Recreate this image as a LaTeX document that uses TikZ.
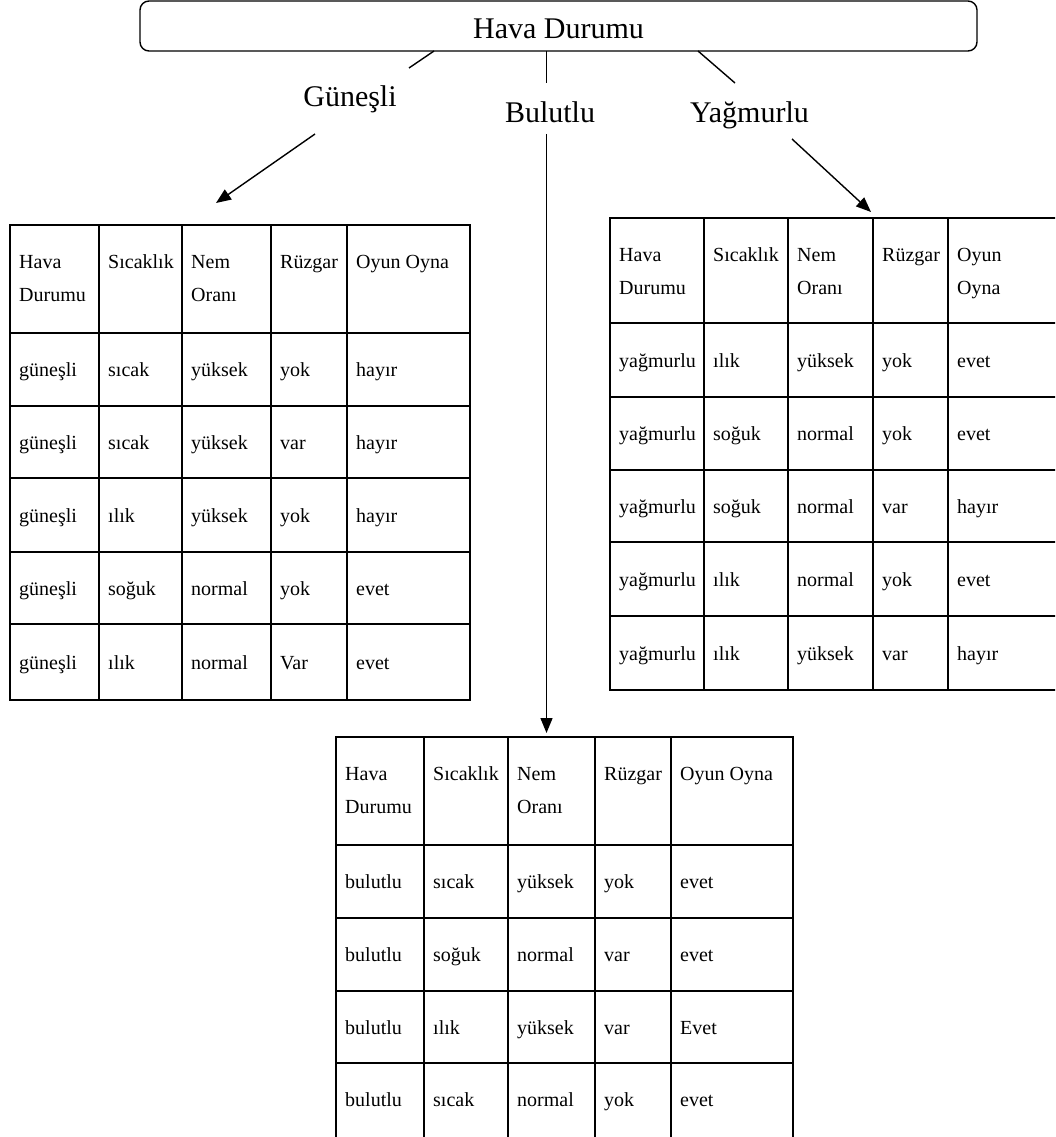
\documentclass[tikz,border=0pt]{standalone}
\usepackage{fontspec}
\setmainfont{Liberation Serif}
\usetikzlibrary{arrows.meta}
\begin{document}
\begin{tikzpicture}[x=1pt,y=-1pt,
  titlebox/.style={draw,line width=1.4pt,rounded corners=9pt,inner sep=0pt,outer sep=0pt,
                   font=\fontsize{30}{36}\selectfont,text height=28pt,text depth=2pt},
  branch/.style={font=\fontsize{30}{36}\selectfont,inner sep=0pt,anchor=base},
  conn/.style={line width=1.4pt},
  arr/.style={line width=1.4pt,-{Triangle[length=15pt,width=12pt]}},
  frame/.style={draw,line width=1.9pt,inner sep=0pt,outer sep=0pt,anchor=north west},
  grid/.style={line width=1.9pt},
  cell/.style={anchor=west,inner sep=0pt,font=\fontsize{20}{24}\selectfont,
               text height=14pt,text depth=4pt}]
\clip (0,0) rectangle (1055,1137);

% root and branch labels
\node[titlebox,minimum width=837pt,minimum height=50pt] (title) at (558.5,26) {Hava Durumu};
\node[branch] (gun) at (350,107) {Güneşli};
\node[branch] (bul) at (550,122) {Bulutlu};
\node[branch] (yag) at (749.5,123) {Yağmurlu};

% table frames
\node[frame,minimum width=460pt,minimum height=475pt] (tg) at (10,225) {};
\node[frame,minimum width=450pt,minimum height=472pt] (ty) at (610,218) {};
\node[frame,minimum width=457pt,minimum height=405pt] (tb) at (336,737) {};

% ---- Güneşli table ----
\foreach \x in {99,182,271,347} \draw[grid] (\x,225) -- (\x,700);
\foreach \y in {333,406,478,552,624} \draw[grid] (10,\y) -- (470,\y);
\foreach \x/\y/\t [count=\i] in {19/263/Hava,19/296/Durumu,108/263/Sıcaklık,191/263/Nem,
    191/296/Oranı,280/263/Rüzgar,356/263/Oyun Oyna}
  \node[cell] (gh\i) at (\x,\y) {\t};
\foreach \y/\va/\vb/\vc/\vd/\ve [count=\r] in {
    371.5/güneşli/sıcak/yüksek/yok/hayır,
    444/güneşli/sıcak/yüksek/var/hayır,
    517/güneşli/ılık/yüksek/yok/hayır,
    590/güneşli/soğuk/normal/yok/evet,
    664/güneşli/ılık/normal/Var/evet}
  \foreach \x/\t [count=\k] in {19/\va,108/\vb,191/\vc,280/\vd,356/\ve}
    \node[cell] (g-\r-\k) at (\x,\y) {\t};

% ---- Yağmurlu table ----
\foreach \x in {704,788,873,948} \draw[grid] (\x,218) -- (\x,690);
\foreach \y in {323,397,470,542,616} \draw[grid] (610,\y) -- (1060,\y);
\foreach \x/\y/\t [count=\i] in {619/256/Hava,619/289/Durumu,713/256/Sıcaklık,797/256/Nem,
    797/289/Oranı,882/256/Rüzgar,957/256/Oyun,957/289/Oyna}
  \node[cell] (yh\i) at (\x,\y) {\t};
\foreach \y/\va/\vb/\vc/\vd/\ve [count=\r] in {
    362/yağmurlu/ılık/yüksek/yok/evet,
    435.5/yağmurlu/soğuk/normal/yok/evet,
    508/yağmurlu/soğuk/normal/var/hayır,
    581/yağmurlu/ılık/normal/yok/evet,
    655/yağmurlu/ılık/yüksek/var/hayır}
  \foreach \x/\t [count=\k] in {619/\va,713/\vb,797/\vc,882/\vd,957/\ve}
    \node[cell] (y-\r-\k) at (\x,\y) {\t};

% ---- Bulutlu table ----
\foreach \x in {424,508,595,671} \draw[grid] (\x,737) -- (\x,1142);
\foreach \y in {845,918,991,1063} \draw[grid] (336,\y) -- (793,\y);
\foreach \x/\y/\t [count=\i] in {345/775/Hava,345/808/Durumu,433/775/Sıcaklık,517/775/Nem,
    517/808/Oranı,604/775/Rüzgar,680/775/Oyun Oyna}
  \node[cell] (bh\i) at (\x,\y) {\t};
\foreach \y/\va/\vb/\vc/\vd/\ve [count=\r] in {
    883.5/bulutlu/sıcak/yüksek/yok/evet,
    956.5/bulutlu/soğuk/normal/var/evet,
    1029/bulutlu/ılık/yüksek/var/Evet,
    1101.5/bulutlu/sıcak/normal/yok/evet}
  \foreach \x/\t [count=\k] in {345/\va,433/\vb,517/\vc,604/\vd,680/\ve}
    \node[cell] (b-\r-\k) at (\x,\y) {\t};

% ---- connectors, broken around the branch labels ----
\coordinate (g1) at (434,51);   \coordinate (g2) at (409,68);
\coordinate (g3) at (315,134);  \coordinate (g4) at (216,203);
\coordinate (b1) at (546.5,51); \coordinate (b2) at (546.5,83);
\coordinate (b3) at (546.5,134);\coordinate (b4) at (546.5,733);
\coordinate (y1) at (698,51);   \coordinate (y2) at (735,83);
\coordinate (y3) at (792,139);  \coordinate (y4) at (871,212);
\draw[conn] (g1) -- (g2);
\draw[arr]  (g3) -- (g4);
\draw[conn] (b1) -- (b2);
\draw[arr]  (b3) -- (b4);
\draw[conn] (y1) -- (y2);
\draw[arr]  (y3) -- (y4);
\end{tikzpicture}
\end{document}
